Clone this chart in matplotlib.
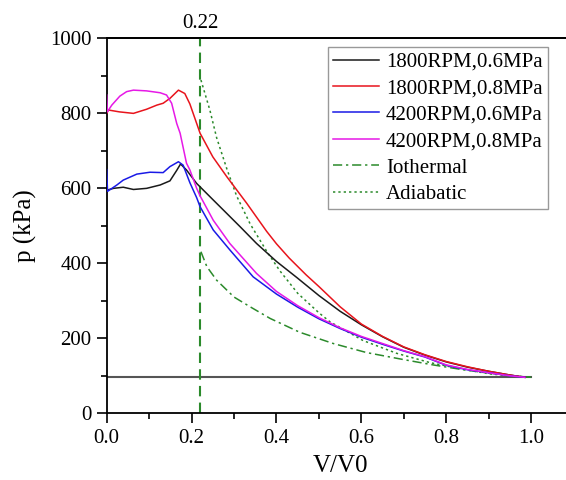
import matplotlib
matplotlib.use('Agg')
import matplotlib.pyplot as plt
from matplotlib.ticker import MultipleLocator

plt.rcParams['font.family'] = ['Liberation Serif', 'DejaVu Serif']

# measured p-V curves (V/V0, kPa)
x_1800_06 = [0, 0.016, 0.039, 0.063, 0.094, 0.126, 0.149, 0.165, 0.174, 0.188, 0.212, 0.22, 0.251, 0.275,
             0.314, 0.353, 0.4, 0.448, 0.5, 0.55, 0.6, 0.65, 0.7, 0.75, 0.8, 0.85, 0.9, 0.95, 0.985]
p_1800_06 = [595, 600, 603, 597, 600, 609, 620, 648, 665, 649, 613, 604, 569, 542,
             498, 453, 405, 362, 314, 272, 236, 204, 176, 155, 137, 123, 112, 102, 96]

x_1800_08 = [0, 0.004, 0.03, 0.063, 0.094, 0.118, 0.133, 0.149, 0.169, 0.184, 0.196, 0.22, 0.25, 0.283,
             0.33, 0.377, 0.4, 0.43, 0.47, 0.5, 0.55, 0.6, 0.65, 0.7, 0.75, 0.8, 0.85, 0.9, 0.95, 0.985]
p_1800_08 = [800, 809, 804, 800, 811, 822, 827, 840, 862, 853, 825, 747, 684, 631,
             560, 485, 452, 414, 369, 338, 284, 238, 205, 177, 156, 138, 124, 112, 102, 96]

x_4200_06 = [0, 0.002, 0.024, 0.039, 0.071, 0.102, 0.133, 0.149, 0.169, 0.18, 0.196, 0.212, 0.22, 0.251,
             0.29, 0.345, 0.4, 0.45, 0.5, 0.55, 0.6, 0.65, 0.7, 0.75, 0.8, 0.85, 0.9, 0.95, 0.985]
p_4200_06 = [650, 592, 609, 622, 638, 643, 642, 658, 671, 662, 615, 575, 551, 489,
             436, 364, 318, 283, 252, 226, 203, 184, 166, 150, 128, 116, 108, 100, 96]

x_4200_08 = [0, 0.0015, 0.012, 0.031, 0.047, 0.063, 0.094, 0.126, 0.141, 0.153, 0.165, 0.173, 0.188, 0.196,
             0.212, 0.22, 0.251, 0.29, 0.353, 0.4, 0.45, 0.5, 0.55, 0.6, 0.65, 0.7, 0.75, 0.8, 0.85, 0.9,
             0.95, 0.985]
p_4200_08 = [849, 804, 822, 846, 858, 862, 860, 855, 849, 827, 773, 747, 667, 649,
             600, 580, 515, 453, 373, 325, 287, 255, 228, 205, 186, 167, 151, 129, 117, 108,
             100, 96]

# reference processes
x_iso = [0.222, 0.236, 0.259, 0.3, 0.338, 0.385, 0.455, 0.534, 0.612, 0.691, 0.769, 0.824, 0.887, 0.95, 1.0]
p_iso = [431, 391, 355, 310, 284, 253, 216, 186, 162, 145, 129, 119, 109, 101, 96]

x_adi = [0.222, 0.243, 0.259, 0.283, 0.306, 0.338, 0.377, 0.408, 0.45, 0.5, 0.526, 0.604, 0.683, 0.762,
         0.84, 0.903, 0.95, 1.0]
p_adi = [889, 809, 735, 652, 580, 505, 432, 380, 320, 268, 244, 194, 160, 135, 117, 105, 100, 96]

P_ATM = 96        # kPa, exhaust line
V_CUT = 0.22      # cut-off V/V0

fig = plt.figure(figsize=(5.66, 4.8), dpi=100)
ax = fig.add_axes([0.1885, 0.139, 0.825, 0.781])

green = '#2b8a2b'
ax.plot([0, 1.0], [P_ATM, P_ATM], color='#555555', lw=1.5, zorder=1)
ax.plot([V_CUT, V_CUT], [0, 1000], color=green, lw=1.5, ls=(0, (5, 3)), zorder=2)

ax.plot(x_1800_06, p_1800_06, color='#1a1a1a', lw=1.1, label='1800RPM,0.6MPa', zorder=4)
ax.plot(x_1800_08, p_1800_08, color='#e8141c', lw=1.1, label='1800RPM,0.8MPa', zorder=4)
ax.plot(x_4200_06, p_4200_06, color='#1a1ae6', lw=1.1, label='4200RPM,0.6MPa', zorder=4)
ax.plot(x_4200_08, p_4200_08, color='#e619e6', lw=1.1, label='4200RPM,0.8MPa', zorder=4)
ax.plot(x_iso, p_iso, color=green, lw=1.1, ls=(0, (6, 2.5, 1.5, 2.5)), label='Iothermal', zorder=3)
ax.plot(x_adi, p_adi, color=green, lw=1.1, ls=(0, (1.5, 2)), label='Adiabatic', zorder=3)

ax.set_xlim(0, 1.1)
ax.set_ylim(0, 1000)
ax.xaxis.set_minor_locator(MultipleLocator(0.1))
ax.yaxis.set_major_locator(MultipleLocator(200))
ax.yaxis.set_minor_locator(MultipleLocator(100))
ax.set_xticks([0, 0.2, 0.4, 0.6, 0.8, 1.0])
ax.set_xticklabels(['0.0', '0.2', '0.4', '0.6', '0.8', '1.0'])
ax.tick_params(which='major', direction='out', length=7, width=1.2, labelsize=15, pad=4)
ax.tick_params(which='minor', direction='out', length=4, width=1.2)
ax.tick_params(axis='x', which='both', top=False)
ax.tick_params(axis='y', which='both', right=False)
for s in ax.spines.values():
    s.set_linewidth(1.3)

ax.set_xlabel('V/V0', fontsize=18, labelpad=5)
ax.set_ylabel('p (kPa)', fontsize=18, labelpad=9)

top = ax.secondary_xaxis('top')
top.set_xticks([V_CUT])
top.set_xticklabels(['0.22'])
top.tick_params(length=0, labelsize=15, pad=4)
top.spines['top'].set_linewidth(1.3)

leg = ax.legend(loc='upper right', bbox_to_anchor=(548 / 566, 1 - 47 / 480), bbox_transform=fig.transFigure,
                borderaxespad=0, fontsize=15, frameon=True, fancybox=False, edgecolor='#808080',
                handlelength=2.2, handletextpad=0.35, labelspacing=0.33, borderpad=0.25)
leg.get_frame().set_linewidth(1.0)

fig.savefig('out.png', dpi=100)
